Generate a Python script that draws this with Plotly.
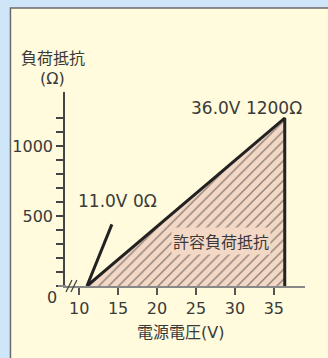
import plotly.graph_objects as go

# ---- data ----
allowed_x = [11.0, 36.4, 36.4]          # supply voltage (V) of the allowed-load triangle
allowed_y = [0, 1200, 0]                # load resistance (Ω)
leader_x = [11.0, 14.2]                 # leader line for the "11.0V 0Ω" label
leader_y = [0, 440]
x_tick_vals = [10, 15, 20, 25, 30, 35]
y_tick_vals = list(range(0, 1300, 100))
y_tick_text = ["" if v not in (500, 1000) else str(v) for v in y_tick_vals]

FONT = "DejaVu Sans, Noto Sans CJK JP"
JFONT = "Noto Sans CJK JP"
TXT = "#3a3a3a"
FILL = "#f3d8c6"
CREAM = "#fffbdc"
BLUE = "#cfe6f8"

L, R, T, B = 63, 305, 92, 286
W, H = 328, 358


def P(px, py):
    return (px - L) / (R - L), (B - py) / (B - T)


fig = go.Figure()
fig.add_trace(go.Scatter(
    x=allowed_x + [allowed_x[0]], y=allowed_y + [allowed_y[0]],
    fill="toself", fillcolor=FILL, mode="lines", line=dict(width=0),
    fillpattern=dict(shape="/", fgcolor="#262626", bgcolor=FILL, size=7, solidity=0.2),
    hoverinfo="skip", showlegend=False))
fig.add_trace(go.Scatter(x=allowed_x, y=allowed_y, mode="lines",
                         line=dict(color="#222222", width=3), showlegend=False))
fig.add_trace(go.Scatter(x=leader_x, y=leader_y, mode="lines",
                         line=dict(color="#222222", width=3), showlegend=False))

shapes = []
x0, y0 = P(8, 8)
x1, y1 = P(340, 370)
shapes.append(dict(type="rect", xref="paper", yref="paper", x0=x0, y0=y1, x1=x1, y1=y0,
                   fillcolor=CREAM, line=dict(color="#6a6a6a", width=1.5), layer="below"))
# axis break marks
for dx in (0, 5):
    a = P(64 + dx, 292)
    b = P(70 + dx, 280)
    shapes.append(dict(type="line", xref="paper", yref="paper", x0=a[0], y0=a[1], x1=b[0], y1=b[1],
                       line=dict(color="#444444", width=1.3)))
# x axis line extension to the left
a = P(56, 286)
b = P(64, 286)
shapes.append(dict(type="line", xref="paper", yref="paper", x0=a[0], y0=a[1], x1=b[0], y1=b[1],
                   line=dict(color="#888888", width=2)))


def ann(text, px, py, size=16, family=FONT, xanchor="center", yanchor="middle", **kw):
    x, y = P(px, py)
    d = dict(text=text, x=x, y=y, xref="paper", yref="paper", showarrow=False,
             xanchor=xanchor, yanchor=yanchor, font=dict(family=family, size=size, color=TXT))
    d.update(kw)
    return d


annotations = [
    ann("図　許容負荷抵抗", 2, 4, size=17, family=JFONT, xanchor="left", yanchor="bottom"),
    ann("負荷抵抗", 51, 57, size=16, family=JFONT),
    ann("(Ω)", 50, 78, size=16),
    ann("0", 57, 297, xanchor="right"),
    ann("電源電圧(V)", 179, 332, size=16),
    ann("36.0V 1200Ω", 246, 108, size=17),
    ann("11.0V 0Ω", 116, 201, size=17),
    ann("許容負荷抵抗", 220, 241, size=16, family=JFONT, bgcolor=FILL, borderpad=1),
]

fig.update_layout(
    width=W, height=H,
    margin=dict(l=L, r=W - R, t=T, b=H - B),
    paper_bgcolor=BLUE, plot_bgcolor="rgba(0,0,0,0)",
    shapes=shapes, annotations=annotations, showlegend=False,
    xaxis=dict(range=[8.18, 39.0], showgrid=False, zeroline=False, showline=True,
               linecolor="#888888", linewidth=2, ticks="outside", ticklen=7,
               tickcolor="#555555", tickwidth=1.5, tickvals=x_tick_vals,
               tickfont=dict(family=FONT, size=16, color=TXT), fixedrange=True),
    yaxis=dict(range=[0, 1386], showgrid=False, zeroline=False, showline=True,
               linecolor="#444444", linewidth=1.5, ticks="outside", ticklen=7,
               tickcolor="#444444", tickwidth=1.5, tickvals=y_tick_vals, ticktext=y_tick_text,
               tickfont=dict(family=FONT, size=16, color=TXT), fixedrange=True),
)

fig.write_html("out.html", config={"displayModeBar": False},
               post_script="document.body.style.margin='0';document.body.style.background='%s';" % BLUE)
